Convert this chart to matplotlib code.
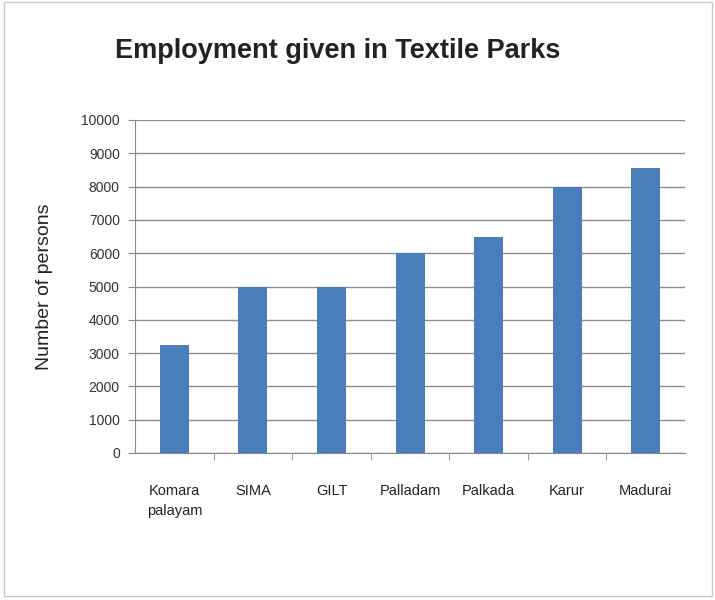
import matplotlib.pyplot as plt
from matplotlib.patches import Rectangle

# Employment per textile park
parks = ['Komara\npalayam', 'SIMA', 'GILT', 'Palladam', 'Palkada', 'Karur', 'Madurai']
persons = [3250, 5000, 5000, 6000, 6500, 8000, 8550]
y_ticks = list(range(0, 10001, 1000))

plt.rcParams['font.family'] = ['Liberation Sans', 'DejaVu Sans']

fig = plt.figure(figsize=(7.15, 6), dpi=100)
ax = fig.add_axes([0.189, 0.245, 0.769, 0.555])

x = range(len(parks))
ax.bar(x, persons, width=0.37, color='#4a7ebb', zorder=3)

ax.set_xlim(-0.5, len(parks) - 0.5)
ax.set_ylim(0, 10000)
ax.set_yticks(y_ticks)
ax.set_yticklabels([str(v) for v in y_ticks], fontsize=10, color='#333333')
ax.set_xticks(list(x))
ax.set_xticklabels(parks, fontsize=10.5, color='#222222', va='top', ha='center',
                   linespacing=1.6)
ax.set_xticks([i + 0.5 for i in range(len(parks) - 1)], minor=True)
ax.tick_params(axis='x', which='major', length=0, pad=22)
ax.tick_params(axis='x', which='minor', length=5, color='#888888')
ax.tick_params(axis='y', length=5, color='#888888', pad=6)

ax.grid(axis='y', color='#8c8c8c', linewidth=1, zorder=0)
for side in ['top', 'right']:
    ax.spines[side].set_visible(False)
ax.spines['left'].set_color('#888888')
ax.spines['bottom'].set_color('#888888')

ax.set_ylabel('Number of persons', fontsize=14, color='#222222', labelpad=20)
fig.text(0.472, 0.915, 'Employment given in Textile Parks', fontsize=19.5,
         fontweight='bold', ha='center', va='center', color='#222222')

fig.patches.append(Rectangle((0.006, 0.006), 0.99, 0.99, transform=fig.transFigure,
                             fill=False, edgecolor='#c8c8c8', linewidth=1))

plt.savefig('out.png', dpi=100)
